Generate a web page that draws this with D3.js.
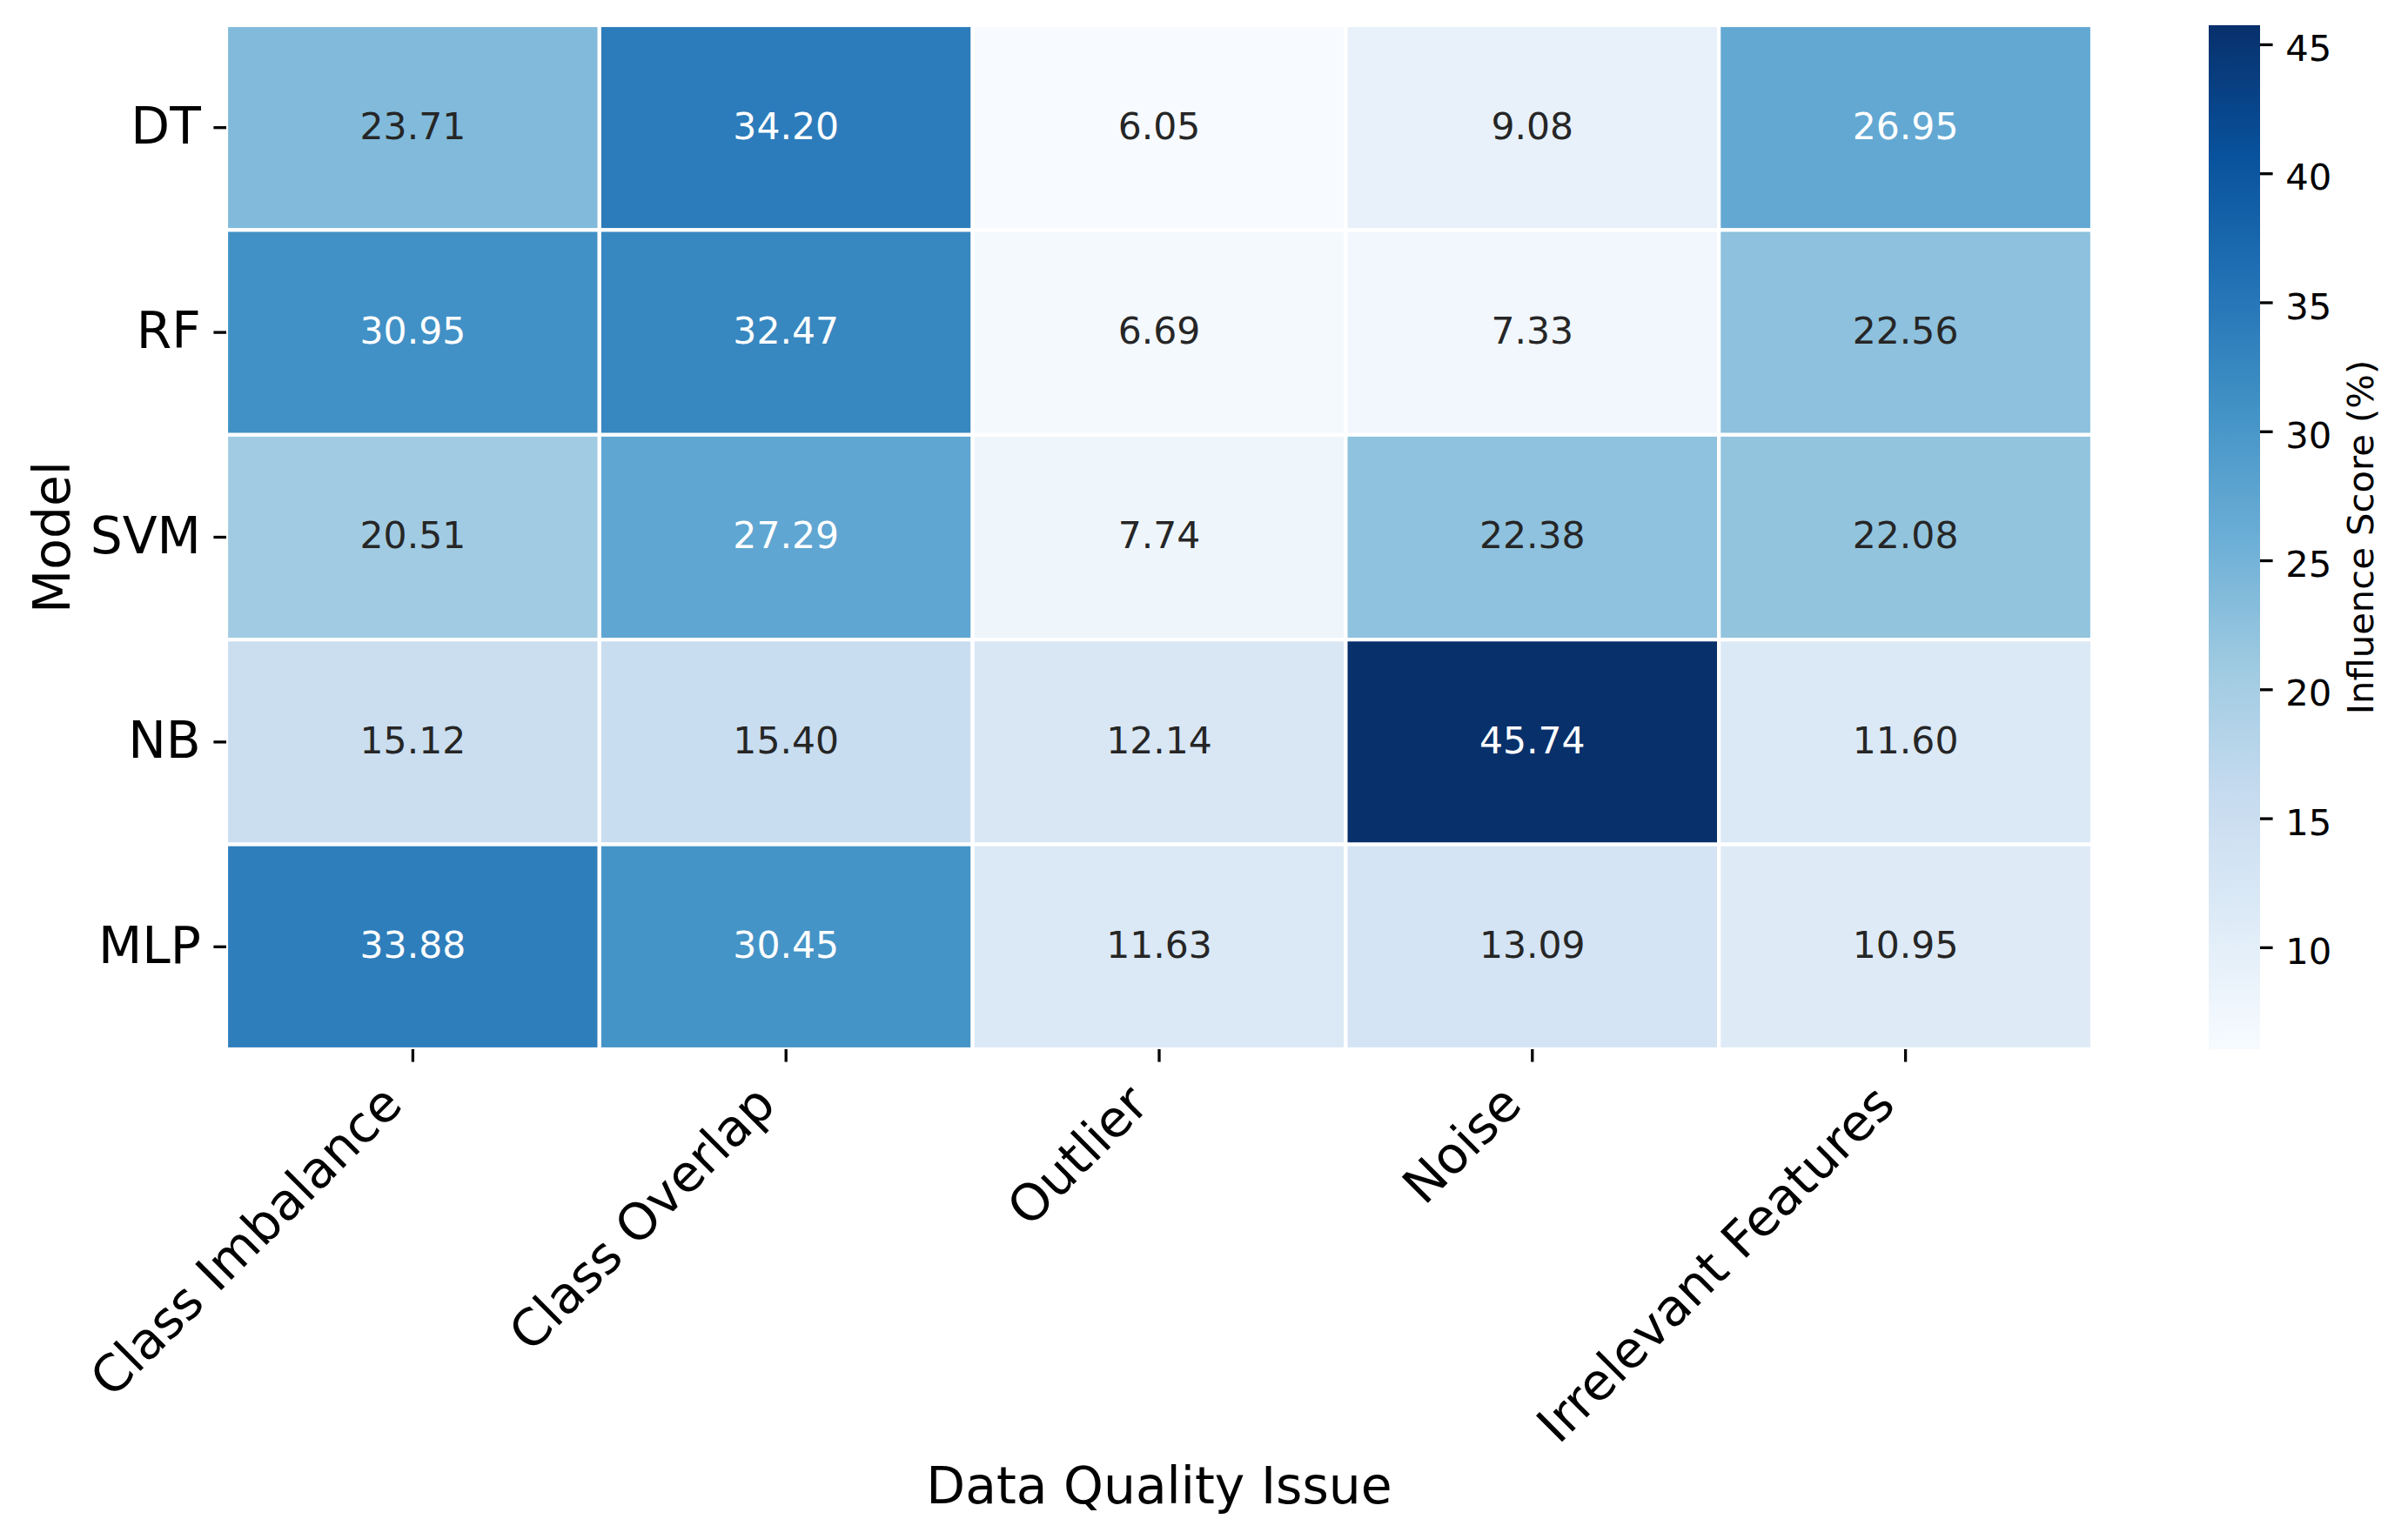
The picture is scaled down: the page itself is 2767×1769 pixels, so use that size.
<!DOCTYPE html>
<html>
<head>
<meta charset="utf-8">
<script src="https://cdn.jsdelivr.net/npm/d3@7"></script>
<style>
  body { margin: 0; background: #fff; }
  svg { display: block; font-family: "DejaVu Sans", sans-serif; }
</style>
</head>
<body>
<svg width="2767" height="1769"></svg>
<script>
var issues = ["Class Imbalance", "Class Overlap", "Outlier", "Noise", "Irrelevant Features"];
var models = ["DT", "RF", "SVM", "NB", "MLP"];

// one array per model, in the order of issues
var dtScores  = [23.71, 34.20, 6.05, 9.08, 26.95];
var rfScores  = [30.95, 32.47, 6.69, 7.33, 22.56];
var svmScores = [20.51, 27.29, 7.74, 22.38, 22.08];
var nbScores  = [15.12, 15.40, 12.14, 45.74, 11.60];
var mlpScores = [33.88, 30.45, 11.63, 13.09, 10.95];

var colorbarTicks = [10, 15, 20, 25, 30, 35, 40, 45];

var scores = [dtScores, rfScores, svmScores, nbScores, mlpScores];

var cells = [];
scores.forEach(function(row, i) {
  row.forEach(function(v, j) {
    cells.push({model: models[i], issue: issues[j], value: v});
  });
});

var vmin = d3.min(cells, function(d) { return d.value; });
var vmax = d3.max(cells, function(d) { return d.value; });

// matplotlib "Blues" = linear ramp through the 9 brewer colours
var blues = d3.schemeBlues[9];
var color = d3.scaleLinear()
  .domain(blues.map(function(c, i) { return vmin + (vmax - vmin) * i / 8; }))
  .range(blues)
  .interpolate(d3.interpolateRgb);

var svg = d3.select("svg");

var plotL = 260, plotR = 2404, plotT = 29, plotB = 1206;

var x = d3.scaleBand().domain(issues).range([plotL, plotR]);
var y = d3.scaleBand().domain(models).range([plotT, plotB]);

function textColor(c) {
  var rgb = d3.rgb(c);
  var lin = [rgb.r, rgb.g, rgb.b].map(function(v) {
    v = v / 255;
    return v <= 0.03928 ? v / 12.92 : Math.pow((v + 0.055) / 1.055, 2.4);
  });
  var lum = 0.2126 * lin[0] + 0.7152 * lin[1] + 0.0722 * lin[2];
  return lum > 0.408 ? "#262626" : "#ffffff";
}

svg.selectAll("rect.cell")
  .data(cells)
  .enter()
  .append("rect")
  .attr("class", "cell")
  .attr("x", function(d) { return x(d.issue); })
  .attr("y", function(d) { return y(d.model); })
  .attr("width", x.bandwidth())
  .attr("height", y.bandwidth())
  .style("fill", function(d) { return color(d.value); })
  .style("stroke", "#fff")
  .style("stroke-width", 4.2);

svg.selectAll("text.annot")
  .data(cells)
  .enter()
  .append("text")
  .attr("class", "annot")
  .attr("x", function(d) { return x(d.issue) + x.bandwidth() / 2; })
  .attr("y", function(d) { return y(d.model) + y.bandwidth() / 2 + 12.8; })
  .attr("text-anchor", "middle")
  .style("font-size", "42.5px")
  .style("fill", function(d) { return textColor(color(d.value)); })
  .text(function(d) { return d.value.toFixed(2); });

// x axis
var xAxis = svg.append("g")
  .attr("transform", "translate(0," + plotB + ")")
  .call(d3.axisBottom(x).tickSize(14.6).tickPadding(0))
  .attr("font-family", null)
  .attr("font-size", null);
xAxis.select(".domain").remove();
xAxis.selectAll(".tick line").style("stroke", "#000").style("stroke-width", 3.3);
xAxis.selectAll(".tick text")
  .attr("text-anchor", "end")
  .attr("x", -24)
  .attr("y", 52)
  .attr("dy", "0.35em")
  .attr("transform", "rotate(-45,-24,52)")
  .style("font-size", "58.3px")
  .style("fill", "#000");

// y axis
var yAxis = svg.append("g")
  .attr("transform", "translate(" + plotL + ",0)")
  .call(d3.axisLeft(y).tickSize(14.6).tickPadding(14.6))
  .attr("font-family", null)
  .attr("font-size", null);
yAxis.select(".domain").remove();
yAxis.selectAll(".tick line").style("stroke", "#000").style("stroke-width", 3.3);
yAxis.selectAll(".tick text")
  .attr("dy", null)
  .attr("y", 18.2)
  .style("font-size", "58.3px")
  .style("fill", "#000");

svg.append("text")
  .attr("x", (plotL + plotR) / 2)
  .attr("y", 1728)
  .attr("text-anchor", "middle")
  .style("font-size", "58.3px")
  .text("Data Quality Issue");

svg.append("text")
  .attr("transform", "translate(80," + (plotT + plotB) / 2 + ") rotate(-90)")
  .attr("text-anchor", "middle")
  .style("font-size", "58.3px")
  .text("Model");

// colorbar
var cbLeft = 2538, cbWidth = 59;
var cbScale = d3.scaleLinear().domain([vmin, vmax]).range([plotB, plotT]);

var grad = svg.append("defs").append("linearGradient")
  .attr("id", "cbgrad")
  .attr("x1", 0).attr("y1", 1).attr("x2", 0).attr("y2", 0);
grad.selectAll("stop")
  .data(blues)
  .enter()
  .append("stop")
  .attr("offset", function(d, i) { return i / 8; })
  .attr("stop-color", function(d) { return d; });

svg.append("rect")
  .attr("x", cbLeft)
  .attr("y", plotT)
  .attr("width", cbWidth)
  .attr("height", plotB - plotT)
  .style("fill", "url(#cbgrad)");

var cbAxis = svg.append("g")
  .attr("transform", "translate(" + (cbLeft + cbWidth) + ",0)")
  .call(d3.axisRight(cbScale).tickValues(colorbarTicks).tickSize(14.6).tickPadding(14.6))
  .attr("font-family", null)
  .attr("font-size", null);
cbAxis.select(".domain").remove();
cbAxis.selectAll(".tick line").style("stroke", "#000").style("stroke-width", 3.3);
cbAxis.selectAll(".tick text")
  .attr("dy", null)
  .attr("y", 18.6)
  .style("font-size", "41.7px")
  .style("fill", "#000");

svg.append("text")
  .attr("transform", "translate(2727," + (plotT + plotB) / 2 + ") rotate(-90)")
  .attr("text-anchor", "middle")
  .style("font-size", "41.7px")
  .text("Influence Score (%)");
</script>
</body>
</html>
